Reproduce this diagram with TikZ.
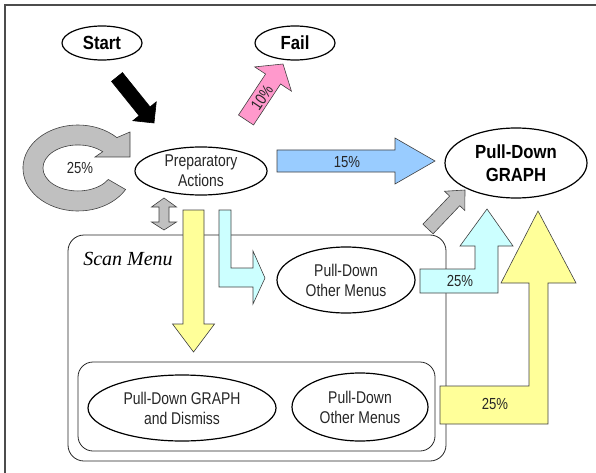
\documentclass[tikz,border=0pt]{standalone}
\usepackage{fontspec}
\setmainfont{Liberation Sans}[FakeStretch=0.82,BoldFeatures={FakeStretch=0.88}]
\newfontfamily\menufont{Liberation Serif}
\usetikzlibrary{shapes.geometric,calc}
\definecolor{arrgray}{HTML}{C0C0C0}
\definecolor{arrblue}{HTML}{99CCFF}
\definecolor{arrpink}{HTML}{FF99CC}
\definecolor{arrcyan}{HTML}{CCFFFF}
\definecolor{arryellow}{HTML}{FFFF99}

% straight block arrow: style, from, to, shaft half width, head half width, head length
\newcommand{\blockarrow}[6]{%
  \draw[arrline,#1] let \p1=(#2), \p2=(#3),
      \n1={atan2(\y2-\y1,\x2-\x1)}, \n2={veclen(\x2-\x1,\y2-\y1)} in
    {[shift={(\p1)},rotate=\n1]
    (0,-#4) -- (\n2-#6,-#4) -- (\n2-#6,-#5) -- (\n2,0) -- (\n2-#6,#5) -- (\n2-#6,#4) -- (0,#4) -- cycle};}

\begin{document}
\begin{tikzpicture}[x=1pt,y=-1pt,
      state/.style={draw,ellipse,line width=1.2pt,fill=white,inner sep=0,align=center,
        text=black!85,font=\fontsize{17}{20}\selectfont},
      endstate/.style={state,text=black,font=\fontsize{19}{23}\selectfont\bfseries},
      panel/.style={draw=black!85,rounded corners=16,line width=0.8pt,inner sep=0},
      arrline/.style={draw=black!75,line width=0.6pt},
      pct/.style={inner sep=0,text=black!85,font=\fontsize{16}{18}\selectfont}]
    \useasboundingbox (0,0) rectangle (596,473);
    \draw[line width=1.2pt,black!70] (5,473) -- (5,5) -- (596,5);

    % menus
    \node[panel,minimum width=378,minimum height=226] (scan) at (257,348) {};
    \node[panel,rounded corners=15,minimum width=357,minimum height=89] (inner) at (256.5,406.5) {};
    \node[inner sep=0,font=\menufont\fontsize{20}{22}\selectfont\itshape] (scanlbl) at (128,259) {Scan Menu};

    % ends of the block arrows
    \coordinate (blk-a) at (117,77);   \coordinate (blk-b) at (154,123);
    \coordinate (pnk-a) at (246,120);  \coordinate (pnk-b) at (283,64);
    \coordinate (blu-a) at (277,161);  \coordinate (blu-b) at (435,161);
    \coordinate (gry-a) at (428,229);  \coordinate (gry-b) at (465,190);
    \coordinate (yel-a) at (193.5,210); \coordinate (yel-b) at (193.5,352);

    \blockarrow{fill=black,draw=black}{blk-a}{blk-b}{7}{15}{15}
    \blockarrow{fill=arrpink}{pnk-a}{pnk-b}{9}{22}{18}
    \blockarrow{fill=arrblue}{blu-a}{blu-b}{11}{23}{40}
    \blockarrow{fill=arrgray}{gry-a}{gry-b}{7}{14}{15}
    \blockarrow{fill=arryellow}{yel-a}{yel-b}{10.5}{21}{28}
    \node[pct,rotate=56] (pnk-lbl) at (262,98) {10\%};
    \node[pct] (blu-lbl) at (347,162) {15\%};

    % loop back on itself
    \draw[arrline,fill=arrgray] (125.6,189.5) arc[start angle=30,end angle=315,x radius=55,y radius=43]
      -- (130,132) -- (130,157) -- (95,157) -- (102.7,151.7)
      arc[start angle=315,end angle=30,x radius=35,y radius=23] -- cycle;
    \node[pct] (loop-lbl) at (80,168) {25\%};

    % two-way arrow into the menu
    \draw[arrline,fill=arrgray] (164,198) -- (176.5,207) -- (169,207) -- (169,222) -- (176.5,222)
      -- (164,230) -- (151.5,222) -- (159,222) -- (159,207) -- (151.5,207) -- cycle;

    % bent arrows
    \draw[arrline,fill=arrcyan] (219,210) -- (231,210) -- (231,268) -- (253,268) -- (253,251)
      -- (265,278) -- (253,304) -- (253,287) -- (219,287) -- cycle;
    \draw[arrline,fill=arrcyan] (420,269) -- (475,269) -- (475,246) -- (460,246) -- (487,209)
      -- (513,246) -- (498,246) -- (498,293) -- (420,293) -- cycle;
    \node[pct] (cyn-lbl) at (460,281) {25\%};
    \draw[arrline,fill=arryellow] (440,386) -- (529,386) -- (529,283) -- (501,283) -- (538,211)
      -- (576,283) -- (548,283) -- (548,424) -- (440,424) -- cycle;
    \node[pct] (ylw-lbl) at (495,404) {25\%};

    % states
    \node[endstate,minimum width=80,minimum height=34] (start) at (102,43) {Start};
    \node[endstate,minimum width=80,minimum height=34] (fail) at (295,43) {Fail};
    \node[state,minimum width=132,minimum height=48] (prep) at (201,171) {Preparatory\\Actions};
    \node[endstate,minimum width=142,minimum height=70] (graph) at (516,163) {Pull-Down\\GRAPH};
    \node[state,minimum width=138,minimum height=66] (other) at (346,280) {Pull-Down\\Other Menus};
    \node[state,minimum width=188,minimum height=66] (dismiss) at (182,408) {Pull-Down GRAPH\\and Dismiss};
    \node[state,minimum width=136,minimum height=68] (otherb) at (360,407) {Pull-Down\\Other Menus};
  \end{tikzpicture}
\end{document}
